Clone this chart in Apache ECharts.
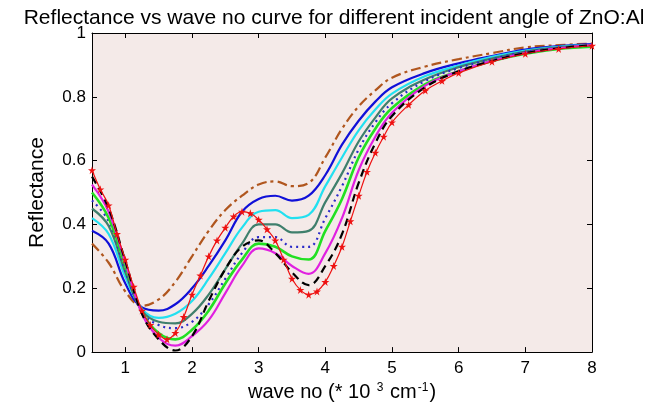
<!DOCTYPE html>
<html><head><meta charset="utf-8">
<script src="https://cdn.jsdelivr.net/npm/echarts@6/dist/echarts.min.js"></script>
<style>html,body{margin:0;padding:0;background:#fff}#c{width:668px;height:407px}</style>
</head><body><div id="c"></div>
<script>
const xs = [0.5,0.75,1,1.25,1.5,1.75,2,2.25,2.5,2.75,3,3.25,3.5,3.75,4,4.25,4.5,4.75,5,5.5,6,6.5,7,7.5,8];
const brown   = [0.34,0.28,0.19,0.145,0.165,0.22,0.30,0.38,0.445,0.49,0.525,0.535,0.52,0.53,0.61,0.70,0.77,0.82,0.86,0.895,0.918,0.937,0.955,0.962,0.967];
const blue    = [0.38,0.34,0.215,0.14,0.13,0.15,0.20,0.27,0.35,0.44,0.48,0.49,0.475,0.49,0.555,0.65,0.725,0.785,0.83,0.875,0.905,0.928,0.948,0.959,0.965];
const cyan    = [0.42,0.37,0.235,0.135,0.107,0.12,0.16,0.23,0.31,0.39,0.44,0.445,0.42,0.43,0.52,0.61,0.695,0.76,0.81,0.865,0.898,0.925,0.945,0.957,0.963];
const teal    = [0.45,0.395,0.25,0.13,0.095,0.09,0.12,0.18,0.26,0.34,0.40,0.40,0.375,0.38,0.47,0.56,0.66,0.735,0.795,0.855,0.893,0.92,0.942,0.955,0.962];
const dotted  = [0.475,0.41,0.255,0.125,0.085,0.075,0.095,0.15,0.23,0.31,0.36,0.36,0.33,0.33,0.42,0.52,0.635,0.72,0.78,0.85,0.89,0.918,0.94,0.953,0.96];
const green   = [0.50,0.42,0.27,0.125,0.06,0.04,0.07,0.13,0.215,0.29,0.34,0.33,0.30,0.29,0.38,0.48,0.61,0.70,0.765,0.84,0.88,0.912,0.935,0.95,0.957];
const magenta = [0.525,0.44,0.28,0.12,0.045,0.02,0.05,0.10,0.185,0.27,0.325,0.31,0.27,0.245,0.31,0.42,0.57,0.675,0.75,0.835,0.88,0.913,0.937,0.952,0.962];
const black   = [0.55,0.45,0.285,0.12,0.04,0.005,0.05,0.16,0.26,0.33,0.35,0.31,0.25,0.21,0.27,0.37,0.53,0.655,0.74,0.83,0.88,0.912,0.937,0.952,0.962];
const redX = [0.5,0.625,0.75,0.875,1,1.125,1.25,1.375,1.5,1.625,1.75,1.875,2,2.125,2.25,2.375,2.5,2.625,2.75,2.875,3,3.125,3.25,3.375,3.5,3.625,3.75,3.875,4,4.125,4.25,4.375,4.5,4.625,4.75,4.875,5,5.25,5.5,5.75,6,6.5,7,7.5,8];
const red  = [0.57,0.51,0.46,0.37,0.29,0.205,0.13,0.085,0.055,0.04,0.06,0.11,0.18,0.24,0.30,0.35,0.39,0.425,0.44,0.435,0.415,0.385,0.35,0.29,0.23,0.195,0.18,0.19,0.22,0.27,0.33,0.41,0.49,0.565,0.625,0.675,0.72,0.775,0.82,0.85,0.875,0.91,0.935,0.95,0.96];
const xTicks = [1,2,3,4,5,6,7,8];
const yTicks = [0,0.2,0.4,0.6,0.8,1];

const pair = (x, y) => x.map((v, i) => [v, y[i]]);
const FONT = 'Liberation Sans, Arial, sans-serif';
const chart = echarts.init(document.getElementById('c'), null, {renderer: 'canvas'});
const mk = (name, data, color, type, width) => ({
  name, type: 'line', data: pair(xs, data), smooth: 0.4, showSymbol: false,
  lineStyle: {color, width, type}, itemStyle: {color}
});
const xAxisBase = {type: 'value', min: 0.5, max: 8,
  axisLine: {show: true, onZero: false, lineStyle: {color: '#000', width: 1}},
  axisTick: {show: true, inside: true, length: 5, customValues: xTicks, lineStyle: {color: '#000'}},
  splitLine: {show: false}};
const yAxisBase = {type: 'value', min: 0, max: 1, interval: 0.2,
  axisLine: {show: true, onZero: false, lineStyle: {color: '#000', width: 1}},
  axisTick: {show: true, inside: true, length: 5, lineStyle: {color: '#000'}},
  splitLine: {show: false}};
chart.setOption({
  animation: false,
  backgroundColor: '#ffffff',
  title: {text: 'Reflectance vs wave no curve for different incident angle of ZnO:Al',
    left: 'center', top: 3, textStyle: {fontFamily: FONT, fontSize: 21, fontWeight: 'normal', color: '#000'}},
  grid: {left: 92, right: 76, top: 33, bottom: 53, show: true, backgroundColor: '#f4eae8', borderWidth: 0},
  xAxis: [
    Object.assign({}, xAxisBase, {position: 'bottom',
      axisLabel: {show: true, customValues: xTicks, color: '#000', fontFamily: FONT, fontSize: 17, margin: 8},
      name: '{a|wave no (* 10 }{s|3}{a| cm}{s|-1}{a|)}', nameLocation: 'middle', nameGap: 29,
      nameTextStyle: {rich: {a: {fontFamily: FONT, fontSize: 20, color: '#000'},
        s: {fontFamily: FONT, fontSize: 12, color: '#000', verticalAlign: 'top', padding: [0,1,8,1]}}}}),
    Object.assign({}, xAxisBase, {position: 'top', axisLabel: {show: false}})
  ],
  yAxis: [
    Object.assign({}, yAxisBase, {position: 'left',
      axisLabel: {color: '#000', fontFamily: FONT, fontSize: 17, margin: 6, formatter: v => String(+v.toFixed(1))},
      name: 'Reflectance', nameLocation: 'middle', nameGap: 44, nameRotate: 90,
      nameTextStyle: {fontFamily: FONT, fontSize: 21, color: '#000'}}),
    Object.assign({}, yAxisBase, {position: 'right', axisLabel: {show: false}})
  ],
  series: [
    mk('brown', brown, '#b0561e', [10,4,3,4], 2.2),
    mk('blue', blue, '#1010d8', 'solid', 2.2),
    mk('cyan', cyan, '#22e0f0', 'solid', 2.2),
    mk('teal', teal, '#3f7f6c', 'solid', 2.2),
    mk('dotted', dotted, '#2a2ac8', [2,4], 2.2),
    mk('green', green, '#22e022', 'solid', 2.6),
    mk('magenta', magenta, '#e020e0', 'solid', 2.2),
    mk('black', black, '#000000', [8,5], 2.2),
    {name: 'red', type: 'line', data: pair(redX, red), smooth: 0.4, showSymbol: true,
      symbol: 'path://M50,0 L61,35 L98,35 L68,57 L79,91 L50,70 L21,91 L32,57 L2,35 L39,35 Z',
      symbolSize: 8, lineStyle: {color: '#ee1111', width: 1.2}, itemStyle: {color: '#ee1111'}}
  ]
});
</script></body></html>
